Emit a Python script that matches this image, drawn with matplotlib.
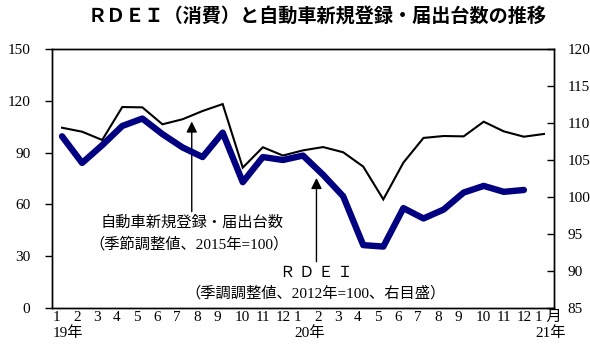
import matplotlib
matplotlib.use("Agg")
import matplotlib.pyplot as plt

plt.rcParams['font.family'] = ['Liberation Serif', 'Noto Sans CJK JP', 'DejaVu Sans']

# Data (Jan 2019 - Jan 2021)
months = ['1', '2', '3', '4', '5', '6', '7', '8', '9', '10', '11', '12',
          '1', '2', '3', '4', '5', '6', '7', '8', '9', '10', '11', '12', '1 月']
year_labels = ['19年', '20年', '21年']
year_label_idx = [0, 12, 24]
# 自動車新規登録・届出台数（季節調整値、2015年=100）left axis
auto_reg = [104.4, 102.1, 97.3, 116.4, 116.2, 106.4, 109.3, 114.1, 118.1, 81.3, 93.1, 88.3,
            91.3, 93.2, 90.2, 81.9, 62.9, 84.2, 98.5, 99.6, 99.4, 107.9, 102.3, 99.2, 100.8]
# RDEI（季調調整値、2012年=100）right axis
rdei = [108.2, 104.6, 107.0, 109.6, 110.6, 108.5, 106.7, 105.4, 108.7, 102.0, 105.4, 105.0,
        105.6, 103.0, 100.1, 93.5, 93.3, 98.5, 97.1, 98.3, 100.6, 101.5, 100.7, 100.95]

left_ticks = [0, 30, 60, 90, 120, 150]
right_ticks = [85, 90, 95, 100, 105, 110, 115, 120]

fig = plt.figure(figsize=(5.9, 3.47), dpi=100)
ax = fig.add_axes([52/590, 1-308/347, (554-52)/590, (308-49)/347])
ax2 = ax.twinx()

x1 = list(range(len(auto_reg)))
x2 = list(range(len(rdei)))

ax.plot(x1, auto_reg, color='black', lw=1.5, solid_joinstyle='miter', zorder=3)
ax2.plot(x2, rdei, color='#000080', lw=4.6, solid_joinstyle='round', solid_capstyle='round', zorder=3)

ax.set_xlim(-0.5, len(months) - 0.5)
ax.set_ylim(0, 150)
ax2.set_ylim(85, 120)
ax.set_yticks(left_ticks)
ax2.set_yticks(right_ticks)
ax.set_xticks([])

ax.tick_params(axis='y', direction='out', length=5, width=1, pad=10.5, labelsize=11)
ax2.tick_params(axis='y', direction='in', length=5, width=1, pad=9.5, labelsize=11)
ax2.set_xticks([])
for a in (ax, ax2):
    for s in a.spines.values():
        s.set_linewidth(1.0)

# month labels (left aligned near category start)
offs = {'10': 0.05, '11': 0.1, '12': 0.1}
trans = ax.get_xaxis_transform()
for i, m in enumerate(months):
    ax.text(i - 0.45 + offs.get(m, 0), -0.035, m, transform=trans, ha='left', va='center',
            fontsize=11, clip_on=False)
for idx, yl in zip(year_label_idx, year_labels):
    ax.text(idx - 0.45, -0.097, yl, transform=trans, ha='left', va='center',
            fontsize=11, clip_on=False)

# annotations
arrow_kw = dict(arrowstyle='-|>', color='black', lw=1.0, mutation_scale=16, shrinkA=0, shrinkB=0)
ax.annotate('', xy=(6.46, 108.0), xytext=(6.46, 55.8), arrowprops=arrow_kw)
ax.text(6.46, 49.2, '自動車新規登録・届出台数', ha='center', va='center', fontsize=11)
ax.text(6.3, 37.1, '（季節調整値、2015年=100）', ha='center', va='center', fontsize=11)

ax.annotate('', xy=(12.67, 75.3), xytext=(12.67, 26.8), arrowprops=arrow_kw)
ax.text(12.65, 20.3, 'Ｒ Ｄ Ｅ Ｉ', ha='center', va='center', fontsize=11)
ax.text(12.6, 8.7, '（季調調整値、2012年=100、右目盛）', ha='center', va='center', fontsize=11)

fig.text(317/590, 1-17/347, 'ＲＤＥＩ（消費）と自動車新規登録・届出台数の推移', ha='center', va='center',
         fontsize=13.8, fontweight='bold', family=['Noto Sans CJK JP'])

fig.savefig('out.png', dpi=100)
